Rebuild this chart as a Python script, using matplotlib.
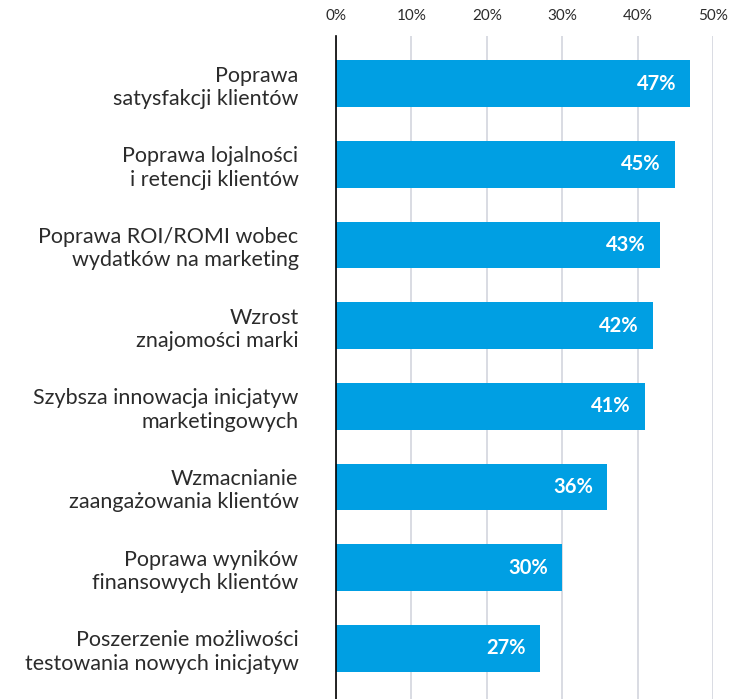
import matplotlib
matplotlib.use("Agg")
import matplotlib.pyplot as plt
import numpy as np

categories = [
    "Poprawa\nsatysfakcji klientów",
    "Poprawa lojalności\ni retencji klientów",
    "Poprawa ROI/ROMI wobec\nwydatków na marketing",
    "Wzrost\nznajomości marki",
    "Szybsza innowacja inicjatyw\nmarketingowych",
    "Wzmacnianie\nzaangażowania klientów",
    "Poprawa wyników\nfinansowych klientów",
    "Poszerzenie możliwości\ntestowania nowych inicjatyw",
]
values = [47, 45, 43, 42, 41, 36, 30, 27]
ticks = [0, 10, 20, 30, 40, 50]
tick_labels = ["0%", "10%", "20%", "30%", "40%", "50%"]

BAR = "#009FE3"
TEXT = "#2b2b2b"
GRID = "#d3d6de"

plt.rcParams["font.family"] = ["Lato", "DejaVu Sans"]

fig = plt.figure(figsize=(7.30, 6.99), dpi=100)
ax = fig.add_axes([336 / 730, 0, 377 / 730, 1 - 36 / 699])

y = np.arange(len(categories))
ax.barh(y, values, height=0.58, color=BAR, zorder=3)

for yi, v in zip(y, values):
    ax.text(v - 1.9, yi, f"{v}%", ha="right", va="center", color="white",
            fontsize=14.5, fontweight="bold", zorder=4)

ax.set_xlim(0, 50)
ax.set_ylim(len(categories) - 1 + 0.626, -0.59)
ax.set_xticks(ticks)
ax.set_xticklabels(tick_labels)
ax.xaxis.tick_top()
ax.tick_params(axis="x", length=0, pad=9, labelsize=11, labelcolor=TEXT)
ax.set_yticks(y)
ax.set_yticklabels(categories, fontsize=15.5, color=TEXT, linespacing=1.2)
ax.tick_params(axis="y", length=0, pad=27)

ax.grid(axis="x", color=GRID, linewidth=1.2, zorder=0)
for s in ["top", "right", "bottom"]:
    ax.spines[s].set_visible(False)
ax.spines["left"].set_color("black")
ax.spines["left"].set_linewidth(1.2)
ax.spines["left"].set_zorder(5)

fig.savefig("out.png", dpi=100)
